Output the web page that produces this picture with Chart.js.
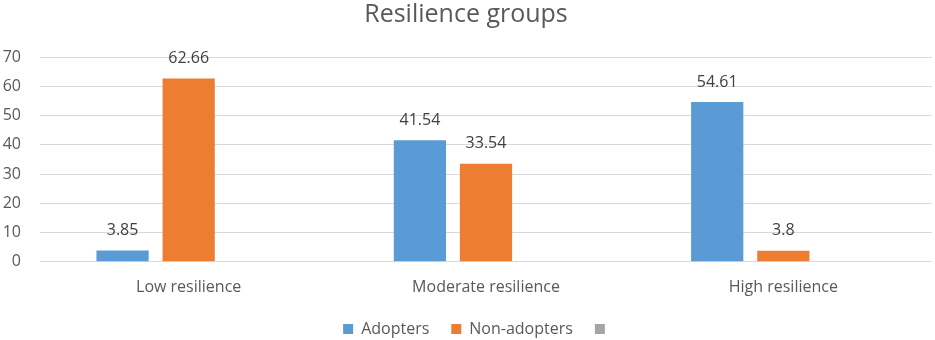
<!DOCTYPE html>
<html>
<head>
<meta charset="utf-8">
<script src="https://cdn.jsdelivr.net/npm/chart.js@4"></script>
<style>
  html, body { margin: 0; padding: 0; background: #fff; }
  #wrap { width: 935px; height: 340px; }
</style>
</head>
<body>
<div id="wrap"><canvas id="chart"></canvas></div>
<script>
// data
const categories = ['Low resilience', 'Moderate resilience', 'High resilience'];
const adopters = [3.85, 41.54, 54.61];
const nonAdopters = [62.66, 33.54, 3.8];
const blankSeries = [null, null, null];   // third legend entry, no values
const seriesNames = ['Adopters', 'Non-adopters', ''];
const yMin = 0, yMax = 70, yStep = 10;

const FONT = "'Open Sans', sans-serif";

// draws the number above each bar
const valueLabels = {
    id: 'valueLabels',
    afterDatasetsDraw(chart) {
        const ctx = chart.ctx;
        ctx.save();
        ctx.font = '16px ' + FONT;
        ctx.fillStyle = '#404040';
        ctx.textAlign = 'center';
        ctx.textBaseline = 'middle';
        chart.data.datasets.forEach((ds, i) => {
            const meta = chart.getDatasetMeta(i);
            meta.data.forEach((bar, j) => {
                const v = ds.data[j];
                if (v === null || v === undefined) return;
                ctx.fillText(String(v), bar.x, bar.y - 20);
            });
        });
        ctx.restore();
    }
};

// the legend keeps wide gaps between items but takes less height
const tightLegend = {
    id: 'tightLegend',
    beforeInit(chart) {
        const lg = chart.legend;
        if (!lg) return;
        const fit = lg.fit;
        lg.fit = function () {
            fit.call(this);
            this.height -= 21;
        };
    },
    afterLayout(chart) {
        const lg = chart.legend;
        if (!lg) return;
        lg.top -= 14;
        lg.left += 12;
        lg.right += 12;
    }
};

new Chart(document.getElementById('chart').getContext('2d'), {
    type: 'bar',
    data: {
        labels: categories,
        datasets: [
            { label: seriesNames[0], data: adopters, backgroundColor: '#5B9BD5' },
            { label: seriesNames[1], data: nonAdopters, backgroundColor: '#ED7D31' },
            { label: seriesNames[2], data: blankSeries, backgroundColor: '#A5A5A5' }
        ]
    },
    options: {
        responsive: true,
        maintainAspectRatio: false,
        animation: false,
        layout: { padding: { left: 0, right: 3, top: 0, bottom: 0 } },
        datasets: {
            bar: { categoryPercentage: 0.667, barPercentage: 0.79 }
        },
        plugins: {
            title: {
                display: true,
                text: 'Resilience groups',
                color: '#595959',
                font: { family: FONT, size: 25, weight: 'normal' },
                padding: { top: 0, bottom: 27 }
            },
            legend: {
                position: 'bottom',
                labels: {
                    boxWidth: 10,
                    boxHeight: 10,
                    padding: 22,
                    color: '#595959',
                    font: { family: FONT, size: 16 }
                }
            },
            tooltip: { enabled: false }
        },
        scales: {
            x: {
                grid: { display: false, drawTicks: false },
                border: { display: false },
                ticks: { color: '#595959', padding: 16, font: { family: FONT, size: 16 } }
            },
            y: {
                min: yMin,
                max: yMax,
                ticks: { stepSize: yStep, color: '#595959', padding: 19, font: { family: FONT, size: 16 } },
                grid: { color: '#d9d9d9', lineWidth: 1, drawTicks: false },
                border: { display: false },
                afterFit(scale) { scale.width = 40; }
            }
        }
    },
    plugins: [valueLabels, tightLegend]
});
</script>
</body>
</html>
